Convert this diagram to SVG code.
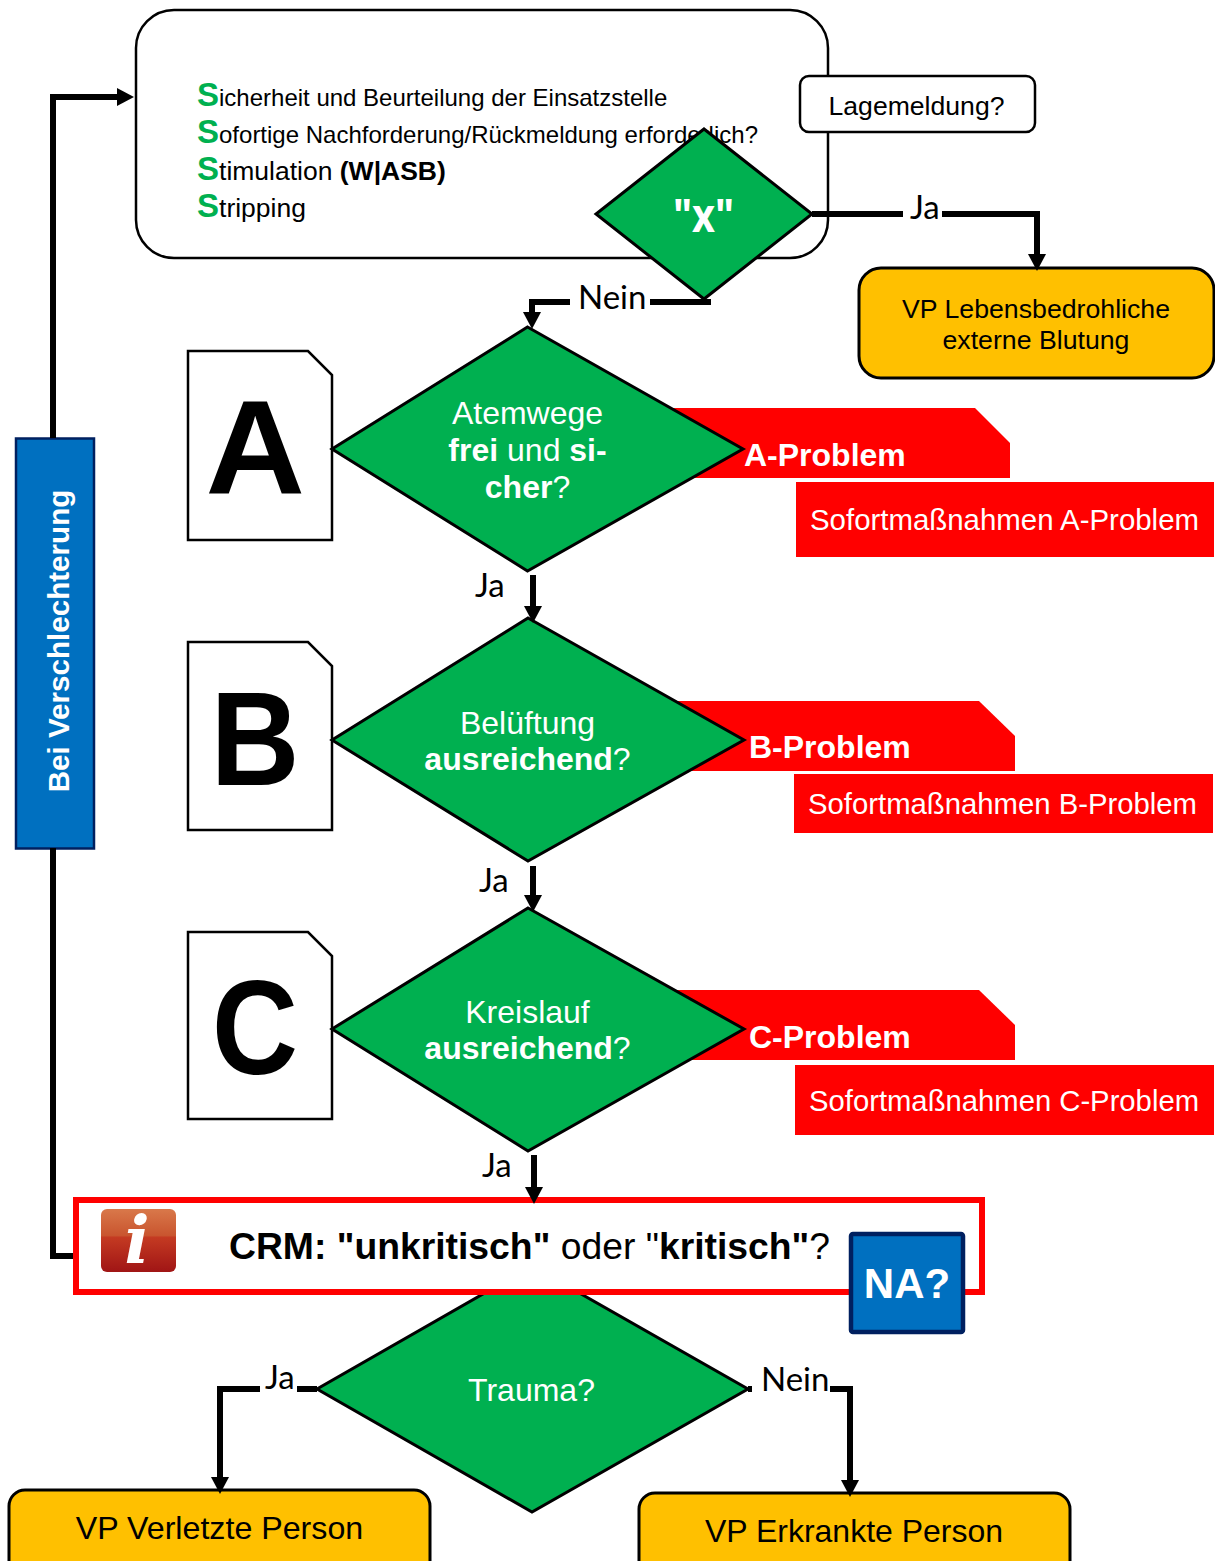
<svg xmlns="http://www.w3.org/2000/svg" width="1215" height="1561" viewBox="0 0 1215 1561">
<style>
text{font-family:"Liberation Sans",Arial,sans-serif;fill:#000}
.lbl{font-family:"Lato","Noto Sans",sans-serif;font-size:33px}
.dia{fill:#00B050;stroke:#000;stroke-width:3}
.dt{fill:#fff;font-size:32px;text-anchor:middle}
.b{font-weight:700}
.doc{fill:#fff;stroke:#000;stroke-width:2.5}
.let{font-size:134px;font-weight:700}
.tag{fill:#f00}
.tt{fill:#fff;font-size:32px;font-weight:700}
.st{fill:#fff;font-size:29.500px}
.vp{fill:#FFC000;stroke:#000;stroke-width:3}
.s{fill:#00B050;font-weight:700;font-size:33px}
.sl{font-size:24px}
.c{fill:none;stroke:#000;stroke-width:6}
.ca{fill:none;stroke:#000;stroke-width:6;marker-end:url(#ah)}
</style>
<defs>
<marker id="ah" markerUnits="userSpaceOnUse" markerWidth="17" markerHeight="18" viewBox="0 0 17 18" refX="0" refY="9" orient="auto"><path d="M0 0L17 9L0 18z" fill="#000"/></marker>
<linearGradient id="ig" x1="0" y1="0" x2="0" y2="1"><stop offset="0" stop-color="#D9784A"/><stop offset=".42" stop-color="#C9552F"/><stop offset=".45" stop-color="#C43A22"/><stop offset="1" stop-color="#A01515"/></linearGradient>
</defs>
<rect width="1215" height="1561" fill="#fff"/>

<g id="sss-box">
<rect x="136" y="10" width="692" height="248" rx="38" fill="#fff" stroke="#000" stroke-width="2.500"/>
<text x="197" y="106" class="sl"><tspan class="s">S</tspan>icherheit und Beurteilung der Einsatzstelle</text>
<text x="197" y="143" class="sl"><tspan class="s">S</tspan>ofortige Nachforderung/Rückmeldung erforderlich?</text>
<text x="197" y="180" class="sl" style="font-size:26.500px"><tspan class="s">S</tspan>timulation <tspan class="b">(W|ASB)</tspan></text>
<text x="197" y="217" class="sl" style="font-size:26.500px"><tspan class="s">S</tspan>tripping</text>
</g>
<g id="lagemeldung">
<rect x="800" y="76" width="235" height="56" rx="9" fill="#fff" stroke="#000" stroke-width="2.500"/>
<text x="916.500" y="115" font-size="26.600" text-anchor="middle">Lagemeldung?</text>
</g>

<g id="label-ja-x"><text class="lbl" x="910" y="219">Ja</text></g>
<g id="label-nein-x"><text class="lbl" x="578" y="309">Nein</text></g>
<g id="label-ja-a"><text class="lbl" x="475" y="597">Ja</text></g>
<g id="label-ja-b"><text class="lbl" x="479" y="892">Ja</text></g>
<g id="label-ja-c"><text class="lbl" x="482" y="1177">Ja</text></g>
<g id="label-ja-trauma"><text class="lbl" x="265" y="1389">Ja</text></g>
<g id="label-nein-trauma"><text class="lbl" x="761" y="1391">Nein</text></g>

<g id="x-decision">
<polygon class="dia" points="704,129 812,214 704,299 596,214"/>
<text x="673" y="232" font-size="46" font-weight="700" textLength="61" lengthAdjust="spacingAndGlyphs" style="font-family:'Noto Sans',sans-serif;fill:#fff">"x"</text>
</g>
<g id="vp-blutung">
<rect class="vp" x="859" y="268" width="355" height="110" rx="22"/>
<text x="1036" y="318" font-size="26.700" text-anchor="middle">VP Lebensbedrohliche</text>
<text x="1036" y="349" font-size="26.700" text-anchor="middle">externe Blutung</text>
</g>

<g id="doc-a"><path class="doc" d="M188 351H308L332 375V540H188Z"/><text class="let" x="205.500" y="494" textLength="99.500" lengthAdjust="spacingAndGlyphs">A</text></g>
<g id="a-problem">
<path class="tag" d="M660 408H975L1010 443V478H660Z"/>
</g>
<g id="a-decision">
<polygon class="dia" points="527.5,327 743,449 527.5,571 332,449"/>
<text class="dt" x="527.5" y="424">Atemwege</text>
<text class="dt" x="527.5" y="461"><tspan class="b">frei</tspan> und <tspan class="b">si-</tspan></text>
<text class="dt" x="527.5" y="498"><tspan class="b">cher</tspan>?</text>
<text class="tt" x="744" y="466">A-Problem</text>
</g>
<g id="a-sofort"><rect class="tag" x="796" y="482" width="418" height="75"/><text class="st" x="810" y="530" textLength="389" lengthAdjust="spacingAndGlyphs">Sofortmaßnahmen A-Problem</text></g>

<g id="doc-b"><path class="doc" d="M188 642H308L332 666V830H188Z"/><text class="let" x="210.500" y="785" textLength="89" lengthAdjust="spacingAndGlyphs">B</text></g>
<g id="b-problem"><path class="tag" d="M660 701H979L1015 736V771H660Z"/></g>
<g id="b-decision">
<polygon class="dia" points="528,618 744,740 528,861 332,740"/>
<text class="dt" x="527.5" y="734">Belüftung</text>
<text class="dt" x="527.5" y="770"><tspan class="b">ausreichend</tspan>?</text>
<text class="tt" x="749" y="758">B-Problem</text>
</g>
<g id="b-sofort"><rect class="tag" x="794" y="774" width="419" height="59"/><text class="st" x="808" y="814" textLength="389" lengthAdjust="spacingAndGlyphs">Sofortmaßnahmen B-Problem</text></g>

<g id="doc-c"><path class="doc" d="M188 932H308L332 956V1119H188Z"/><text class="let" x="212" y="1074" textLength="86" lengthAdjust="spacingAndGlyphs">C</text></g>
<g id="c-problem"><path class="tag" d="M660 990H979L1015 1025V1060H660Z"/></g>
<g id="c-decision">
<polygon class="dia" points="528,908 744,1029 528,1151 332,1029"/>
<text class="dt" x="527.5" y="1023">Kreislauf</text>
<text class="dt" x="527.5" y="1059"><tspan class="b">ausreichend</tspan>?</text>
<text class="tt" x="749" y="1048">C-Problem</text>
</g>
<g id="c-sofort"><rect class="tag" x="795" y="1065" width="419" height="70"/><text class="st" x="809" y="1111" textLength="390" lengthAdjust="spacingAndGlyphs">Sofortmaßnahmen C-Problem</text></g>

<g id="verschlechterung">
<rect x="16" y="438.500" width="78" height="410" fill="#0070C0" stroke="#002060" stroke-width="2.500"/>
<text transform="translate(69 641) rotate(-90)" text-anchor="middle" font-size="29.600" font-weight="700" style="fill:#fff">Bei Verschlechterung</text>
</g>

<g id="trauma-decision">
<polygon class="dia" points="532,1266 748,1389 532,1512 317,1389"/>
<text class="dt" x="531.5" y="1401">Trauma?</text>
</g>
<g id="crm">
<rect x="76" y="1200" width="906" height="92" fill="#fff" stroke="#f00" stroke-width="6"/>
<rect x="101" y="1209" width="75" height="63" rx="6" fill="url(#ig)"/>
<text x="137" y="1263" text-anchor="middle" font-size="66" font-weight="700" font-style="italic" style="font-family:'DejaVu Serif',serif;fill:#fff">i</text>
<text x="229" y="1259" font-size="37.300"><tspan class="b">CRM: "unkritisch"</tspan> oder "<tspan class="b">kritisch"</tspan>?</text>
</g>
<g id="na">
<rect x="851" y="1234" width="112" height="98" rx="2" fill="#0070C0" stroke="#002060" stroke-width="4.500"/>
<text x="907" y="1298" text-anchor="middle" font-size="42" font-weight="700" style="fill:#fff">NA?</text>
</g>
<g id="vp-verletzt">
<rect class="vp" x="9" y="1490" width="421" height="90" rx="16"/>
<text x="219.500" y="1539" font-size="32.200" text-anchor="middle">VP Verletzte Person</text>
</g>
<g id="vp-erkrankt">
<rect class="vp" x="639" y="1493" width="431" height="90" rx="16"/>
<text x="854" y="1542" font-size="32" text-anchor="middle">VP Erkrankte Person</text>
</g>

<g id="connectors">
<path class="ca" d="M53 438V97H117"/>
<path class="c" d="M53 848V1256H73"/>
<path class="c" d="M812 214H903"/>
<path class="ca" d="M942 214H1037V254"/>
<path class="c" d="M650 302H711"/>
<path class="ca" d="M570 302H532V312"/>
<path class="ca" d="M533 575V606"/>
<path class="ca" d="M533 866V895"/>
<path class="ca" d="M534 1155V1187"/>
<path class="c" d="M317 1389H297"/>
<path class="ca" d="M260 1389H220V1477"/>
<path class="c" d="M748 1389H752"/>
<path class="ca" d="M830 1389H850V1480"/>
</g>
</svg>
